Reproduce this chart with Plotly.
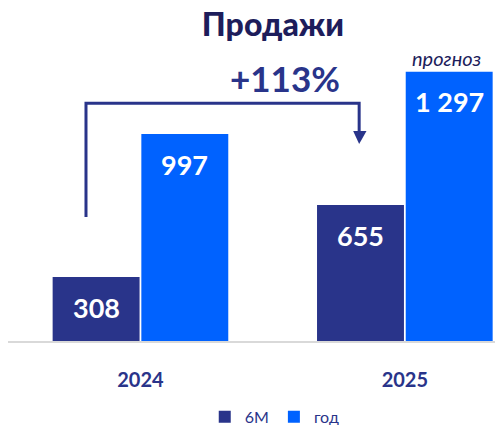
import plotly.graph_objects as go

years = ["2024", "2025"]
series_names = ["6M", "год"]
values_6m = [308, 655]
values_year = [997, 1297]
title_text = "Продажи"
forecast_text = "прогноз"

NAVY = "#29348A"
BLUE = "#0062FF"
TITLE_COLOR = "#1D1D5B"
FONT = "Lato"

def fmt(v):
    return f"{v:,}".replace(",", " ")

growth = round((values_6m[1] / values_6m[0] - 1) * 100)

fig = go.Figure()
fig.add_trace(go.Bar(name=series_names[0], x=years, y=values_6m, marker_color=NAVY,
                     marker_line_width=0, hoverinfo="skip"))
fig.add_trace(go.Bar(name=series_names[1], x=years, y=values_year, marker_color=BLUE,
                     marker_line_width=0, hoverinfo="skip"))

annotations = []
bar_off = 0.168
for i, y in enumerate(years):
    for vals, off in ((values_6m, -bar_off), (values_year, bar_off)):
        annotations.append(dict(x=i + off, y=vals[i], xref="x", yref="y", text=fmt(vals[i]),
                                showarrow=False, yshift=-30, yanchor="middle",
                                font=dict(family=FONT, size=27, color="white", weight="bold")))
annotations.append(dict(x=0.548, y=1267, xref="x", yref="y", text=f"+{growth}%", showarrow=False,
                        yanchor="middle",
                        font=dict(family=FONT, size=35, color=NAVY, weight="bold")))
annotations.append(dict(x=1 + bar_off - 0.01, y=values_year[1], xref="x", yref="y", text=forecast_text,
                        showarrow=False, yanchor="bottom", yshift=0,
                        font=dict(family=FONT, size=20, color=TITLE_COLOR, style="italic")))

shapes = [
    dict(type="path", xref="x", yref="y",
         path="M -0.206 597.6 L -0.206 1145.5 L 0.8272 1145.5 L 0.8272 1012",
         line=dict(color=NAVY, width=3)),
    dict(type="path", xref="x", yref="y",
         path="M 0.8045 1012 L 0.855 1012 L 0.8272 949.4 Z",
         fillcolor=NAVY, line=dict(color=NAVY, width=0)),
]

fig.update_layout(
    width=495, height=425,
    margin=dict(l=8, r=0, t=60, b=84, autoexpand=False),
    paper_bgcolor="white", plot_bgcolor="white",
    barmode="group", bargap=0.329, bargroupgap=0.02,
    title=dict(text=title_text, x=273 / 495, xanchor="center", y=1 - 25 / 425, yanchor="middle",
               font=dict(family=FONT, size=32, color=TITLE_COLOR, weight=900)),
    xaxis=dict(range=[-0.501, 1.341], showline=True, linecolor="#D9D9D9", linewidth=2,
               showgrid=False, zeroline=False, ticks="",
               tickfont=dict(family=FONT, size=20, color=NAVY, weight="bold"),
               ticklabelstandoff=20),
    yaxis=dict(range=[0, 1354], visible=False, showgrid=False, zeroline=False),
    showlegend=True,
    legend=dict(orientation="h", x=0.404, xanchor="left", y=-0.27, yanchor="middle",
                font=dict(family=FONT, size=16, color=NAVY),
                itemclick=False),
    annotations=annotations,
    shapes=shapes,
)

fig.write_html("out.html", config={"displayModeBar": False},
               post_script="document.body.style.margin='0';document.body.style.overflow='hidden';")
